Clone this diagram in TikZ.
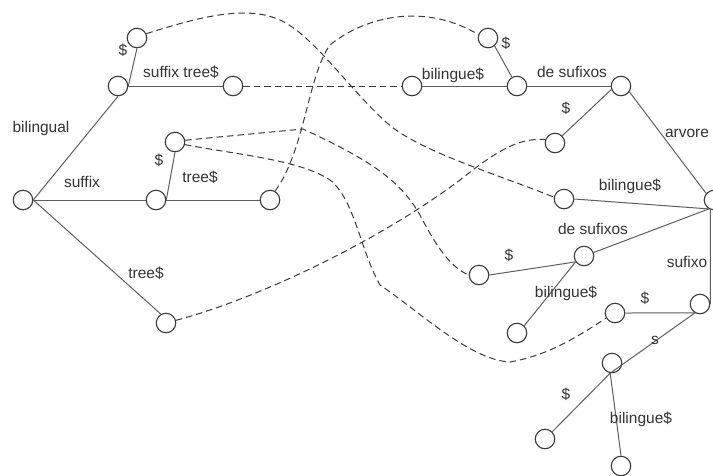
\documentclass[tikz,border=0pt]{standalone}
\usepackage{fontspec}
\setmainfont{Liberation Sans}
\definecolor{vtxcol}{HTML}{3A3A3A}
\definecolor{edgecol}{HTML}{5E5E5E}
\definecolor{linkcol}{HTML}{3A3A3A}
\definecolor{txtcol}{HTML}{333333}
\begin{document}
\begin{tikzpicture}[x=1pt,y=-1pt,
  vtx/.style={circle,draw=vtxcol,line width=1.1pt,fill=white,minimum size=19.5pt,inner sep=0pt},
  lbl/.style={text=txtcol,font=\fontsize{15.5}{18}\selectfont,inner sep=0pt},
  edge/.style={draw=edgecol,line width=1pt},
  link/.style={draw=linkcol,line width=1pt,dash pattern=on 6.5pt off 4pt}]
\useasboundingbox (0,0) rectangle (713,475);

% ---- suffix tree of "bilingual suffix tree$" ----
\node[vtx] (r1) at (23,200) {};
\node[vtx] (a)  at (118,86) {};
\node[vtx] (ad) at (137,38) {};
\node[vtx] (al) at (233,86) {};
\node[vtx] (b)  at (156,200) {};
\node[vtx] (bd) at (175,142) {};
\node[vtx] (bl) at (270,200) {};
\node[vtx] (c)  at (166,323) {};

\draw[edge] (r1.east) -- (a.south);
\draw[edge] (r1.east) -- (b.west);
\draw[edge] (r1.east) -- (c.120);
\draw[edge] (a.east) -- (al.west);
\draw[edge] (a.east) -- (ad.south);
\draw[edge] (b.east) -- (bl.west);
\draw[edge] (b.east) -- (bd.south);

\node[lbl] (t1) at (41,128) {bilingual};
\node[lbl] (t2) at (82,182) {suffix};
\node[lbl] (t3) at (181,72) {suffix tree\$};
\node[lbl] (t4) at (123,50) {\$};
\node[lbl] (t5) at (159,160) {\$};
\node[lbl] (t6) at (200,177) {tree\$};
\node[lbl] (t7) at (146,273) {tree\$};

% ---- suffix tree of "arvore de sufixos bilingue$" ----
\node[vtx] (r2) at (714,200) {};
\node[vtx] (q)  at (621,86) {};
\node[vtx] (p)  at (517,86) {};
\node[vtx] (pd) at (488,38) {};
\node[vtx] (pl) at (412,86) {};
\node[vtx] (qd) at (555,143) {};
\node[vtx] (rb) at (564,199) {};
\node[vtx] (s)  at (584,256) {};
\node[vtx] (sd) at (479,275) {};
\node[vtx] (sb) at (517,333) {};
\node[vtx] (t)  at (700,304) {};
\node[vtx] (td) at (615,313) {};
\node[vtx] (u)  at (612,363) {};
\node[vtx] (ud) at (545,439) {};
\node[vtx] (ub) at (621,466) {};

\draw[edge] (pd.-50) -- (p.120);
\draw[edge] (pl.east) -- (p.west);
\draw[edge] (p.east) -- (q.west);
\draw[edge] (q.200) -- (qd.45);
\draw[edge] (q.-35) -- (r2.140);
\draw[edge] (rb.east) -- (r2.240);
\draw[edge] (s.20) -- (r2.240);
\draw[edge] (sd.east) -- (s.215);
\draw[edge] (sb.45) -- (s.215);
\draw[edge] (r2.250) -- (t.east);
\draw[edge] (td.east) -- (t.240);
\draw[edge] (t.240) -- (u.260);
\draw[edge] (u.260) -- (ud.45);
\draw[edge] (u.260) -- (ub.north);

\node[lbl] (k1)  at (506,43) {\$};
\node[lbl] (k2)  at (453,75) {bilingue\$};
\node[lbl] (k3)  at (572,72) {de sufixos};
\node[lbl] (k4)  at (566,108) {\$};
\node[lbl] (k5)  at (687,133) {arvore};
\node[lbl] (k6)  at (630,186) {bilingue\$};
\node[lbl] (k7)  at (593,229) {de sufixos};
\node[lbl] (k8)  at (509,255) {\$};
\node[lbl] (k9)  at (566,293) {bilingue\$};
\node[lbl] (k10) at (687,262) {sufixo};
\node[lbl] (k11) at (645,298) {\$};
\node[lbl] (k12) at (655,340) {s};
\node[lbl] (k13) at (566,394) {\$};
\node[lbl] (k14) at (641,419) {bilingue\$};

% ---- dashed links between the two trees ----
\draw[link] (ad.25) .. controls (190,20) and (240,5) .. (275,18)
  .. controls (310,30) and (345,85) .. (387,123)
  .. controls (420,152) and (500,175) .. (rb.170);
\draw[link] (al.east) -- (pl.west);
\draw[link] (bl.60) .. controls (305,150) and (308,75) .. (330,45)
  .. controls (360,20) and (420,0) .. (pd.160);
\draw[link] (bd.10) -- (303,129)
  .. controls (370,160) and (400,180) .. (420,215)
  .. controls (438,250) and (452,268) .. (sd.west);
\draw[link] (bd.-15) .. controls (240,155) and (300,160) .. (330,180)
  .. controls (355,200) and (360,250) .. (380,285)
  .. controls (420,312) and (470,360) .. (510,362)
  .. controls (550,355) and (580,335) .. (td.210);
\draw[link] (c.15) .. controls (260,298) and (380,240) .. (460,180)
  .. controls (500,148) and (520,138) .. (qd.160);
\end{tikzpicture}
\end{document}
